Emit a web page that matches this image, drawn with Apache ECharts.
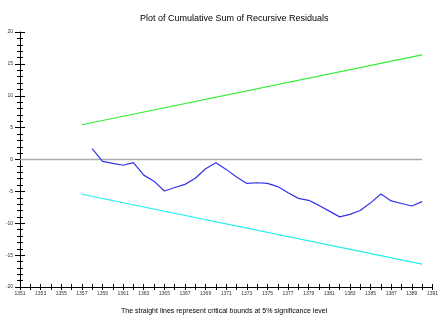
<!DOCTYPE html>
<html>
<head>
<meta charset="utf-8">
<script src="https://cdn.jsdelivr.net/npm/echarts@6/dist/echarts.min.js"></script>
<style>
  html, body { margin: 0; padding: 0; background: #fff; }
  #chart { width: 441px; height: 316px; }
</style>
</head>
<body>
<div id="chart"></div>
<script>
// cusum of recursive residuals, 1358..1390
const cusumYears = [1358, 1359, 1360, 1361, 1362, 1363, 1364, 1365, 1366, 1367, 1368,
  1369, 1370, 1371, 1372, 1373, 1374, 1375, 1376, 1377, 1378, 1379, 1380, 1381,
  1382, 1383, 1384, 1385, 1386, 1387, 1388, 1389, 1390]
const cusumValues = [1.7, -0.3, -0.6, -0.9, -0.5, -2.45, -3.4, -4.95, -4.4, -3.9, -2.95,
  -1.45, -0.5, -1.55, -2.75, -3.75, -3.65, -3.75, -4.25, -5.2, -6.1, -6.4, -7.2, -8.1,
  -9.0, -8.6, -8.0, -6.8, -5.4, -6.5, -6.9, -7.3, -6.6]
// 5% critical bounds (straight lines)
const boundYears = [1357, 1390]
const upperBound = [5.45, 16.4]
const lowerBound = [-5.45, -16.4]
// zero reference line
const zeroYears = [1351, 1390]
const zeroValues = [0, 0]

const pairs = (xs, ys) => xs.map((x, i) => [x, ys[i]])

const chart = echarts.init(document.getElementById('chart'))
const font = 'Liberation Sans, Arial, sans-serif'
const axisBase = {
  type: 'value',
  position: 'left',
  offset: 0,
  min: -20,
  max: 20,
  splitLine: { show: false },
}
const xBase = {
  type: 'value',
  position: 'bottom',
  offset: 0,
  min: 1351,
  max: 1391,
  interval: 1,
  splitLine: { show: false },
}

chart.setOption({
  animation: false,
  title: [
    {
      text: 'Plot of Cumulative Sum of Recursive Residuals',
      left: 135,
      top: 9,
      textStyle: { fontSize: 9, fontWeight: 'normal', color: '#000', fontFamily: font },
    },
    {
      text: 'The straight lines represent critical bounds at 5% significance level',
      left: 116,
      top: 303,
      textStyle: { fontSize: 7, fontWeight: 'normal', color: '#000', fontFamily: font },
    },
  ],
  grid: { left: 20, right: 1, top: 32, bottom: 29 },
  xAxis: [
    {
      ...xBase,
      axisLine: { show: true, onZero: false, lineStyle: { color: '#000', width: 1 } },
      axisTick: { show: true, inside: false, length: 3, lineStyle: { color: '#000' } },
      axisLabel: {
        fontSize: 5,
        color: '#333',
        fontFamily: font,
        margin: 4,
        showMinLabel: true,
        showMaxLabel: true,
        formatter: (v) => (v % 2 === 1 ? String(v) : ''),
      },
    },
    {
      ...xBase,
      axisLine: { show: false, onZero: false },
      axisTick: { show: true, inside: true, length: 3, lineStyle: { color: '#000' } },
      axisLabel: { show: false },
    },
  ],
  yAxis: [
    {
      ...axisBase,
      interval: 1,
      axisLine: { show: true, onZero: false, lineStyle: { color: '#000', width: 1 } },
      axisTick: { show: true, inside: false, length: 3, lineStyle: { color: '#000' } },
      axisLabel: { show: false },
    },
    {
      ...axisBase,
      interval: 1,
      axisLine: { show: false, onZero: false },
      axisTick: { show: true, inside: true, length: 3, lineStyle: { color: '#000' } },
      axisLabel: { show: false },
    },
    {
      ...axisBase,
      interval: 5,
      axisLine: { show: false, onZero: false },
      axisTick: { show: true, inside: false, length: 5, lineStyle: { color: '#000' } },
      axisLabel: { fontSize: 5, color: '#333', fontFamily: font, margin: 7 },
    },
    {
      ...axisBase,
      interval: 5,
      axisLine: { show: false, onZero: false },
      axisTick: { show: true, inside: true, length: 5, lineStyle: { color: '#000' } },
      axisLabel: { show: false },
    },
  ],
  series: [
    {
      type: 'line',
      data: pairs(zeroYears, zeroValues),
      symbol: 'none',
      lineStyle: { color: '#aaaaaa', width: 1.5 },
      z: 1,
    },
    {
      type: 'line',
      data: pairs(boundYears, upperBound),
      symbol: 'none',
      lineStyle: { color: '#33ee33', width: 1.2 },
    },
    {
      type: 'line',
      data: pairs(boundYears, lowerBound),
      symbol: 'none',
      lineStyle: { color: '#22eeee', width: 1.2 },
    },
    {
      type: 'line',
      data: pairs(cusumYears, cusumValues),
      symbol: 'none',
      lineStyle: { color: '#3333ee', width: 1.2 },
    },
  ],
})
</script>
</body>
</html>
